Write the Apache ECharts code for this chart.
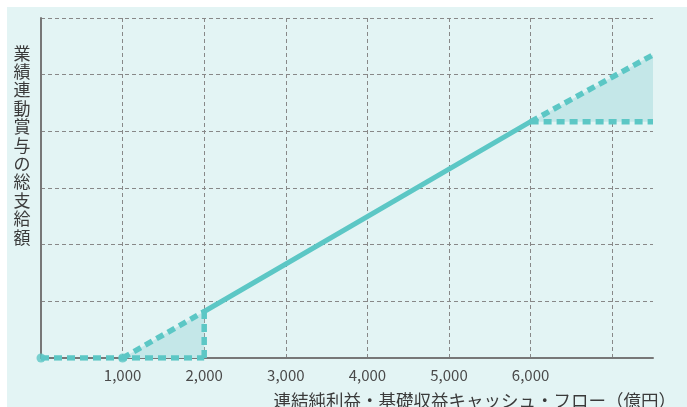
<!DOCTYPE html>
<html><head><meta charset="utf-8">
<script src="https://cdn.jsdelivr.net/npm/echarts@6/dist/echarts.min.js"></script>
<style>
html,body{margin:0;padding:0;background:#fff;}
#bg{position:absolute;left:7px;top:7px;width:680px;height:400px;background:#e3f4f4;}
#chart{position:absolute;left:0;top:0;width:687px;height:407px;}
</style></head>
<body><div id="bg"></div><div id="chart"></div>
<script>
// tick labels shown on the x axis
const xTickLabels = [1000, 2000, 3000, 4000, 5000, 6000];
const yAxisTitle = '業績連動賞与の総支給額';
const xAxisTitle = '連結純利益・基礎収益キャッシュ・フロー（億円）';
// line segments (x: 億円, y: relative bonus level)
const baseDashed = [[0, 0], [2000, 0]];
const markerPoints = [[0, 0], [1000, 0]];
const rampDashed = [[1000, 0], [2000, 0.82]];
const stepDashed = [[2000, 0], [2000, 0.82]];
const solidLine = [[2000, 0.82], [6000, 4.17]];
const upperDashed = [[6000, 4.17], [7500, 5.35]];
const capDashed = [[6000, 4.17], [7500, 4.17]];
const capLevel = 4.17;

const teal = '#5cc7c5';
const fill = '#c4e7e8';
const dash = [8, 5];
const font = '"Noto Sans CJK JP", "Noto Sans", sans-serif';

function dashedSeries(data) {
  return { type: 'line', data: data, symbol: 'none', silent: true,
    lineStyle: { color: teal, width: 5.5, type: dash, cap: 'butt' }, z: 3 };
}

const chart = echarts.init(document.getElementById('chart'), null, { renderer: 'canvas' });
chart.setOption({
  backgroundColor: 'transparent',
  animation: false,
  grid: { left: 41, top: 18, right: 34, bottom: 49 },
  xAxis: {
    type: 'value', min: 0, max: 7500, interval: 1000,
    axisLine: { lineStyle: { color: '#777', width: 2 } },
    axisTick: { show: false },
    axisLabel: {
      color: '#4a4a4a', fontSize: 15, fontFamily: font, margin: 10,
      formatter: function (v) { return xTickLabels.indexOf(v) >= 0 ? v.toLocaleString('en-US') : ''; }
    },
    splitLine: { show: true, showMinLine: false, showMaxLine: false,
      lineStyle: { color: '#888', type: [4, 3], width: 1 } }
  },
  yAxis: {
    type: 'value', min: 0, max: 6, interval: 1,
    axisLine: { show: true, lineStyle: { color: '#777', width: 2 } },
    axisTick: { show: false },
    axisLabel: { show: false },
    splitLine: { show: true, showMinLine: false,
      lineStyle: { color: '#888', type: [4, 3], width: 1 } }
  },
  graphic: [
    { type: 'text', x: 22, y: 44,
      style: { text: yAxisTitle.split('').join('\n'), fill: '#3a3a3a', font: '17px ' + font,
        lineHeight: 18.4, align: 'center', verticalAlign: 'top' } },
    { type: 'text', x: 676, y: 400,
      style: { text: xAxisTitle, fill: '#3a3a3a', font: '17.5px ' + font,
        align: 'right', verticalAlign: 'middle' } }
  ],
  series: [
    { type: 'line', data: rampDashed, symbol: 'none', silent: true,
      lineStyle: { opacity: 0 }, areaStyle: { color: fill, opacity: 1 }, z: 1 },
    { type: 'line', data: upperDashed, symbol: 'none', silent: true,
      lineStyle: { opacity: 0 }, areaStyle: { color: fill, opacity: 1, origin: capLevel }, z: 1 },
    dashedSeries(baseDashed),
    dashedSeries(rampDashed),
    dashedSeries(stepDashed),
    dashedSeries(upperDashed),
    dashedSeries(capDashed),
    { type: 'line', data: solidLine, symbol: 'none', silent: true,
      lineStyle: { color: teal, width: 5, cap: 'round' }, z: 4 },
    { type: 'scatter', data: markerPoints, symbol: 'circle', symbolSize: 9,
      itemStyle: { color: teal }, silent: true, z: 5 }
  ]
});
</script></body></html>
